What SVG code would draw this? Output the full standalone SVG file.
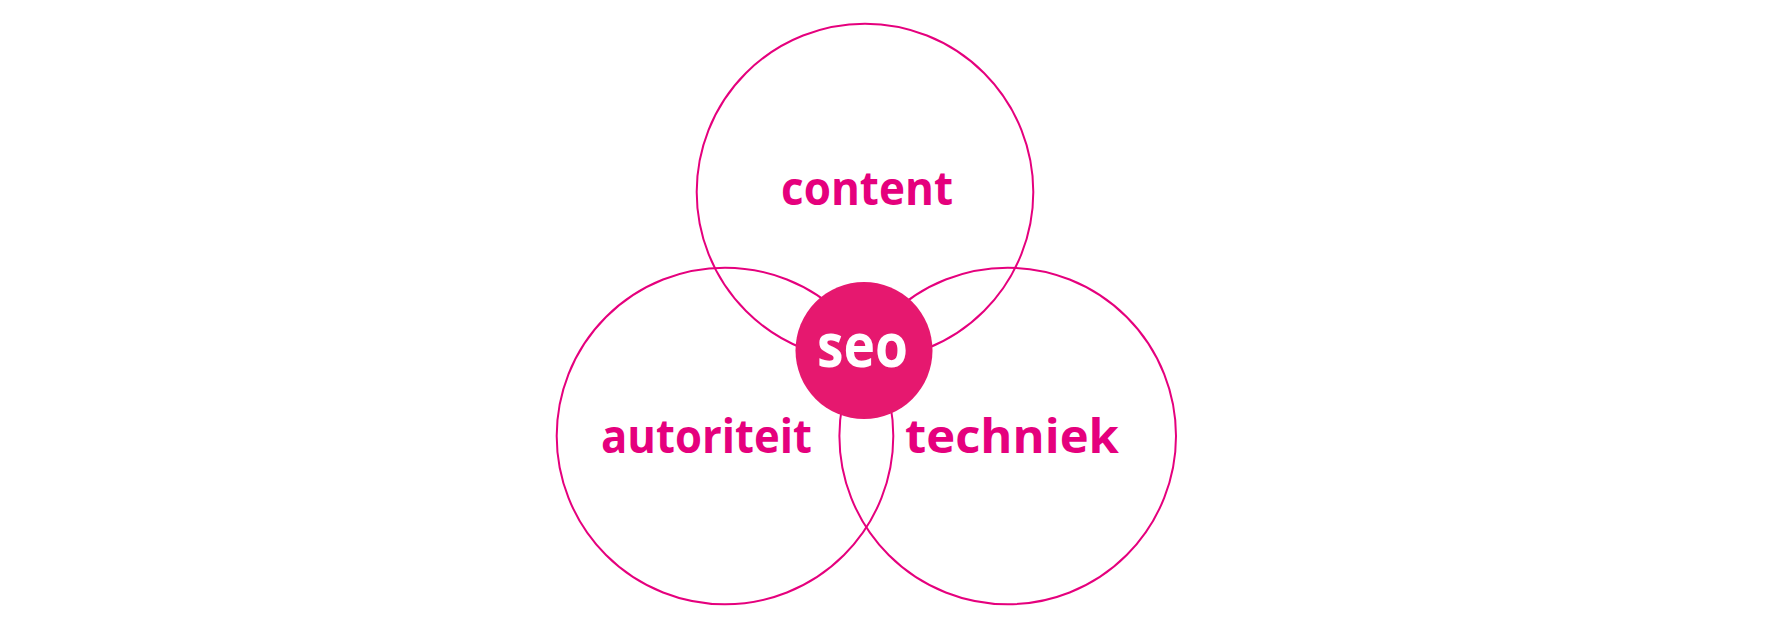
<svg xmlns="http://www.w3.org/2000/svg" width="1772" height="629" viewBox="0 0 1772 629">
  <style>
    .ring { fill: none; stroke: #e5007d; stroke-width: 2; }
    .lbl { font-family: "Open Sans", "Liberation Sans", sans-serif; font-weight: 700; font-size: 46px; fill: #e5007d; }
    .core { fill: #e6186f; }
    .corelbl { font-family: "Open Sans", "Liberation Sans", sans-serif; font-weight: 700; font-size: 60px; fill: #ffffff; }
  </style>
  <rect width="1772" height="629" fill="#ffffff"/>
  <g id="content">
    <circle class="ring" cx="865" cy="192" r="168.3"/>
    <text class="lbl" x="781" y="204.5" textLength="172" lengthAdjust="spacingAndGlyphs">content</text>
  </g>
  <g id="autoriteit">
    <circle class="ring" cx="725" cy="436" r="168.3"/>
    <text class="lbl" x="601" y="453" textLength="211" lengthAdjust="spacingAndGlyphs">autoriteit</text>
  </g>
  <g id="techniek">
    <circle class="ring" cx="1007.7" cy="436" r="168.3"/>
    <text class="lbl" x="905" y="453" textLength="214" lengthAdjust="spacingAndGlyphs">techniek</text>
  </g>
  <g id="seo">
    <circle class="core" cx="864" cy="350.5" r="68.5"/>
    <text class="corelbl" x="817" y="367" textLength="91" lengthAdjust="spacingAndGlyphs">seo</text>
  </g>
</svg>
